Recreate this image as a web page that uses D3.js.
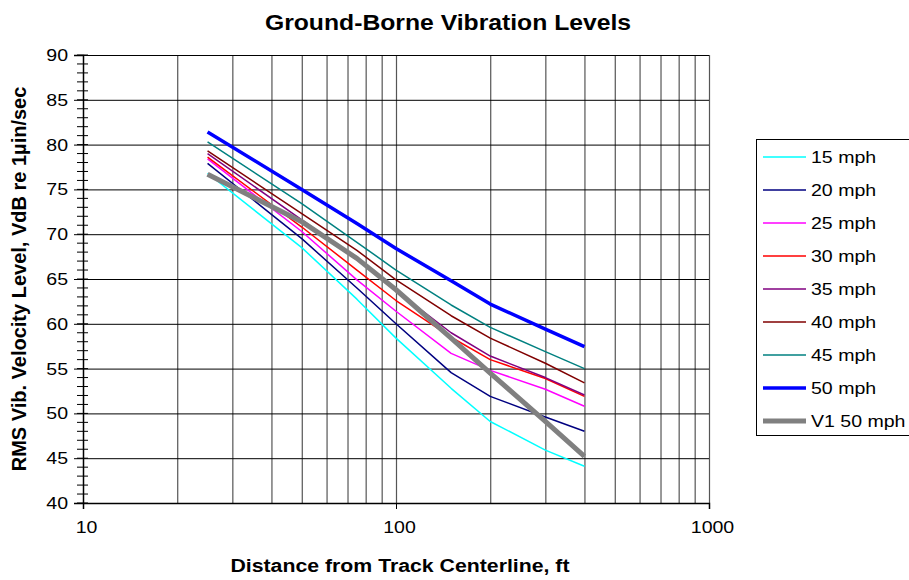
<!DOCTYPE html>
<html>
<head>
<meta charset="utf-8">
<script src="https://d3js.org/d3.v7.min.js"></script>
<style>
body { margin: 0; background: #fff; }
text { font-family: Arial, "Liberation Sans", sans-serif; fill: #000; }
</style>
</head>
<body>
<svg width="909" height="580"></svg>
<script>
// distances (ft) where each curve has a point
const distances = [25, 50, 75, 100, 150, 200, 300, 400];

const seriesNames = ["15 mph", "20 mph", "25 mph", "30 mph", "35 mph", "40 mph", "45 mph", "50 mph", "V1 50 mph"];
const mph15 = [76.8, 68.5, 62.75, 58.4, 52.8, 49.1, 45.9, 44.1];
const mph20 = [77.9, 69.5, 64.0, 60.0, 54.55, 51.9, 49.6, 48.0];
const mph25 = [78.4, 70.3, 64.9, 61.4, 56.7, 54.8, 52.7, 50.8];
const mph30 = [78.6, 70.8, 66.0, 62.6, 58.5, 56.0, 53.9, 51.9];
const mph35 = [79.0, 71.6, 67.3, 63.7, 59.0, 56.4, 54.0, 52.05];
const mph40 = [79.3, 72.3, 68.2, 64.9, 60.9, 58.4, 55.6, 53.4];
const mph45 = [80.3, 73.4, 69.1, 66.0, 62.1, 59.6, 56.9, 55.0];
const mph50 = [81.4, 75.0, 71.2, 68.4, 64.8, 62.2, 59.4, 57.45];
const v1mph50 = [76.7, 71.4, 67.3, 63.8, 58.4, 54.5, 49.1, 45.2];

const xTicks = [10, 100, 1000];
const xGrid = [20, 30, 40, 50, 60, 70, 80, 90, 100, 200, 300, 400, 500, 600, 700, 800, 900, 1000];
const yTicks = [40, 45, 50, 55, 60, 65, 70, 75, 80, 85, 90];
const yMinor = d3.range(40, 91, 1);

const titleText = "Ground-Borne Vibration Levels";
const xTitle = "Distance from Track Centerline, ft";
const yTitle = "RMS Vib. Velocity Level, VdB re 1µin/sec";

// look of each series (same order as seriesNames)
const colors = ["#00ffff", "#000080", "#ff00ff", "#ff0000", "#800080", "#800000", "#008080", "#0000ff", "#808080"];
const widths = [1.5, 1.5, 1.5, 1.5, 1.5, 1.5, 1.5, 3.5, 5];

const allValues = [mph15, mph20, mph25, mph30, mph35, mph40, mph45, mph50, v1mph50];
const series = seriesNames.map((name, i) => ({
  name: name,
  color: colors[i],
  width: widths[i],
  points: distances.map((d, j) => ({ d: d, v: allValues[i][j] }))
}));

const SX = 1.15; // text in the reference is a little wide
const pLeft = 83, pRight = 709, pTop = 55, pBottom = 503;

const svg = d3.select("svg");
const x = d3.scaleLog().domain([10, 1000]).range([pLeft, pRight]);
const y = d3.scaleLinear().domain([40, 90]).range([pBottom, pTop]);

function label(sel, tx, ty, size, bold, anchor) {
  return sel.append("text")
    .attr("transform", "translate(" + tx + "," + ty + ") scale(" + SX + ",1)")
    .attr("text-anchor", anchor)
    .style("font-size", size + "px")
    .style("font-weight", bold ? "bold" : "normal");
}

// grid
svg.append("g")
  .attr("transform", "translate(0," + pBottom + ")")
  .call(d3.axisBottom(x).tickValues(xGrid).tickSize(-(pBottom - pTop)).tickFormat(""))
  .call(g => g.select(".domain").remove())
  .selectAll("line").attr("stroke", "#555").attr("stroke-width", 1.2);

svg.append("g")
  .attr("transform", "translate(" + pLeft + ",0)")
  .call(d3.axisLeft(y).tickValues(yTicks).tickSize(-(pRight - pLeft)).tickFormat(""))
  .call(g => g.select(".domain").remove())
  .selectAll("line").attr("stroke", "#000").attr("stroke-width", 1);

// y axis
const yAxis = svg.append("g")
  .attr("transform", "translate(" + pLeft + ",0)")
  .call(d3.axisLeft(y).tickValues(yTicks).tickSize(9).tickPadding(6));
yAxis.select(".domain").attr("stroke", "#000").attr("stroke-width", 1.5);
yAxis.selectAll("text")
  .attr("x", -15 / SX)
  .attr("transform", "scale(" + SX + ",1)")
  .style("font-size", "17px").style("font-family", "Arial, 'Liberation Sans', sans-serif");

svg.append("g").selectAll("line")
  .data(yMinor)
  .join("line")
  .attr("x1", pLeft - 6).attr("x2", pLeft + 5)
  .attr("y1", d => y(d)).attr("y2", d => y(d))
  .attr("stroke", "#000").attr("stroke-width", 1);

// x axis
const xAxis = svg.append("g")
  .attr("transform", "translate(0," + pBottom + ")")
  .call(d3.axisBottom(x).tickValues(xTicks).tickFormat(d3.format("d")).tickSize(6).tickPadding(12));
xAxis.select(".domain").attr("stroke", "#000").attr("stroke-width", 1.5);
xAxis.selectAll("text")
  .attr("x", 3 / SX)
  .attr("transform", "scale(" + SX + ",1)")
  .style("font-size", "17px").style("font-family", "Arial, 'Liberation Sans', sans-serif");

// lines
const line = d3.line().x(p => x(p.d)).y(p => y(p.v));
svg.append("g").selectAll("path")
  .data(series)
  .join("path")
  .attr("d", s => line(s.points))
  .attr("fill", "none")
  .attr("stroke", s => s.color)
  .attr("stroke-width", s => s.width)
  .attr("stroke-linejoin", "round");

// titles
label(svg, 448, 30, 21.5, true, "middle").text(titleText);
label(svg, 400, 572, 18.5, true, "middle").text(xTitle);
svg.append("text")
  .attr("transform", "translate(26,279) rotate(-90)")
  .attr("text-anchor", "middle")
  .style("font-size", "20px").style("font-weight", "bold")
  .text(yTitle);

// legend
const lg = svg.append("g");
lg.append("rect")
  .attr("x", 756.5).attr("y", 139.5).attr("width", 180).attr("height", 296)
  .attr("fill", "#fff").attr("stroke", "#000");
const item = lg.selectAll("g.item")
  .data(series)
  .join("g")
  .attr("class", "item")
  .attr("transform", (s, i) => "translate(0," + (157 + 33 * i) + ")");
item.append("line")
  .attr("x1", 763).attr("x2", 806)
  .attr("stroke", s => s.color)
  .attr("stroke-width", s => s.width);
item.each(function (s) {
  label(d3.select(this), 811, 6, 17, false, "start").text(s.name);
});
</script>
</body>
</html>
